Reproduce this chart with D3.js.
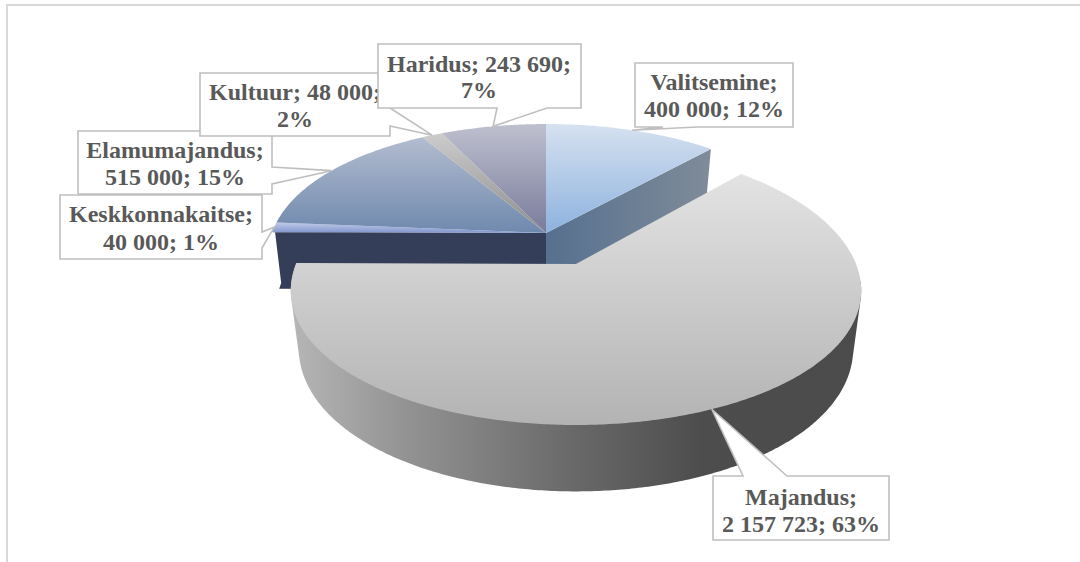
<!DOCTYPE html>
<html><head><meta charset="utf-8">
<script src="https://cdnjs.cloudflare.com/ajax/libs/d3/7.8.5/d3.min.js"></script>
<style>html,body{margin:0;padding:0;background:#fff}svg{display:block}</style>
</head><body><svg id="c" width="1080" height="562"></svg>
<script>
// --- data ---
const categories = ["Valitsemine","Majandus","Keskkonnakaitse","Elamumajandus","Kultuur","Haridus"];
const values = [400000,2157723,40000,515000,48000,243690];
const percents = [12,63,1,15,2,7];
// --- label text wrapping, as in the picture ---
const firstLineHasValue = [false,false,false,false,true,true];
// --- styles ---
const topStops = [["#d6e1f0","#8db2de"],["#e3e3e3","#b3b3b3"],["#c3cde8","#8095cd"],["#bdc3d4","#6f89ae"],["#d2d2d2","#8c8c8c"],["#bec0cf","#797b9b"]];
const gradRange = [[124,233],[174,425],[222,233],[124,233],[124,233],[124,233]];
// --- callout boxes [x0,y0,x1,y1, tail base on a side] ---
const boxes = [
 {x0:635,y0:63,x1:793,y1:127,side:"bottom",t0:663,t1:697,cx:714,b:[90,117]},
 {x0:713,y0:476,x1:889,y1:540,side:"top",t0:743,t1:787,cx:801,b:[505,532]},
 {x0:60,y0:195,x1:262,y1:259,side:"right",t0:232,t1:248,cx:161,b:[222,250]},
 {x0:78,y0:131,x1:272,y1:194,side:"right",t0:167,t1:184,cx:175,b:[158,185]},
 {x0:200,y0:73,x1:390,y1:136,side:"right",t0:108,t1:126,cx:295,b:[100,127]},
 {x0:378,y0:44,x1:581,y1:108,side:"bottom",t0:497,t1:547,cx:479,b:[72,98]}
];
const drawOrder = [3,4,2,5,0,1];

const svg = d3.select("#c");
const defs = svg.append("defs");
const fmt = d3.formatLocale({decimal:",",thousands:" ",grouping:[3],currency:["",""]}).format(",d");

const arcs = d3.pie().sort(null).value(d=>d)(values);
const MAJ = 1;

// perspective of the tilted disc
const back = {cx:546,cy:233,a:274,b:129.8,k:0.191,kx:0.16,kd:0.33,D:57,sh:0.975};
const front = {cx:576,cy:264,a:280,b:135.7,k:0.157,kx:0.19,kd:0.157,D:56,sh:0.972};
function proj(p,th,r,h){
  const u=Math.sin(th)*r, v=Math.cos(th)*r;
  const dy=1+p.k*v;
  return [p.cx + p.a*u/(1+p.kx*v)*(h?p.sh:1),
          p.cy - p.b*v/dy + (h? p.D/(1+p.kd*v):0)];
}
const rim=(p,a0,a1,h)=>{
  const n=Math.max(2,Math.ceil((a1-a0)/0.01));
  return d3.range(n+1).map(i=>proj(p,a0+(a1-a0)*i/n,1,h));
};
const line=d3.line();
const closed=pts=>line(pts)+"Z";

function grad(id,x1,y1,x2,y2,stops){
  const g=defs.append("linearGradient").attr("id",id).attr("gradientUnits","userSpaceOnUse")
    .attr("x1",x1).attr("y1",y1).attr("x2",x2).attr("y2",y2);
  stops.forEach(s=>g.append("stop").attr("offset",s[0]).attr("stop-color",s[1]));
}
arcs.forEach((a,i)=>grad("top"+i,0,gradRange[i][0],0,gradRange[i][1],[[0,topStops[i][0]],[1,topStops[i][1]]]));
grad("wallMaj",291,0,861,0,[[0,"#b6b6b6"],[0.2,"#939393"],[0.5,"#686868"],[0.72,"#4d4d4d"],[1,"#4b4b4b"]]);
grad("wallVal",546,0,710,0,[[0,"#56708f"],[1,"#7f8b99"]]);

const g=svg.append("g");
// frame
svg.append("path").attr("d","M7,562V5H1080").attr("fill","none").attr("stroke","#d9d9d9").attr("stroke-width",2);

// back group: cut faces
const kesk=arcs[2], val=arcs[0];
const keskStart=kesk.startAngle;
g.append("path").attr("fill","#343e58")
 .attr("d",closed([proj(back,0,0,false),proj(back,keskStart,1,false),...rim(back,keskStart,keskStart+0.04,false),proj(back,keskStart+0.04,1,true),proj(back,keskStart,1,true),proj(back,0,0,true)]));
g.append("path").attr("fill","url(#wallVal)")
 .attr("d",closed([proj(back,0,0,false),proj(back,val.endAngle,1,false),proj(back,val.endAngle,1,true),proj(back,0,0,true)]));
// back group: top faces
arcs.forEach((a,i)=>{ if(i===MAJ) return;
  g.append("path").attr("fill","url(#top"+i+")")
   .attr("d",closed([proj(back,0,0,false),...rim(back,a.startAngle,a.endAngle,false)]));
});
// exploded slice: wall then top
const m=arcs[MAJ];
const wallFrom=Math.PI*0.54;
const hull=d3.polygonHull([...rim(front,wallFrom,m.endAngle,false),...rim(front,wallFrom,m.endAngle,true)]);
g.append("path").attr("fill","url(#wallMaj)").attr("d",closed(hull));
g.append("path").attr("fill","url(#top1)")
 .attr("d",closed([proj(front,0,0,false),...rim(front,m.startAngle,m.endAngle,false)]));

// callouts
drawOrder.forEach(i=>{
  const a=arcs[i], bx=boxes[i];
  const mid=(a.startAngle+a.endAngle)/2;
  const tip=proj(i===MAJ?front:back,mid,1,false);
  let pts;
  if(bx.side==="bottom") pts=[[bx.x0,bx.y0],[bx.x1,bx.y0],[bx.x1,bx.y1],[bx.t1,bx.y1],tip,[bx.t0,bx.y1],[bx.x0,bx.y1]];
  else if(bx.side==="top") pts=[[bx.x0,bx.y0],[bx.t0,bx.y0],tip,[bx.t1,bx.y0],[bx.x1,bx.y0],[bx.x1,bx.y1],[bx.x0,bx.y1]];
  else pts=[[bx.x0,bx.y0],[bx.x1,bx.y0],[bx.x1,bx.t0],tip,[bx.x1,bx.t1],[bx.x1,bx.y1],[bx.x0,bx.y1]];
  const lab=svg.append("g");
  lab.append("path").attr("d",closed(pts)).attr("fill","#fff").attr("stroke","#bfbfbf").attr("stroke-width",1.6);
  const val=fmt(values[i]);
  const lines=firstLineHasValue[i]
    ?[`${categories[i]}; ${val};`,`${percents[i]}%`]
    :[`${categories[i]};`,`${val}; ${percents[i]}%`];
  lines.forEach((t,j)=>lab.append("text").text(t)
    .attr("x",bx.cx).attr("y",bx.b[j]).attr("text-anchor","middle")
    .attr("font-family","'Liberation Serif',serif").attr("font-weight","bold")
    .attr("font-size",24).attr("fill","#595959"));
});
</script></body></html>
